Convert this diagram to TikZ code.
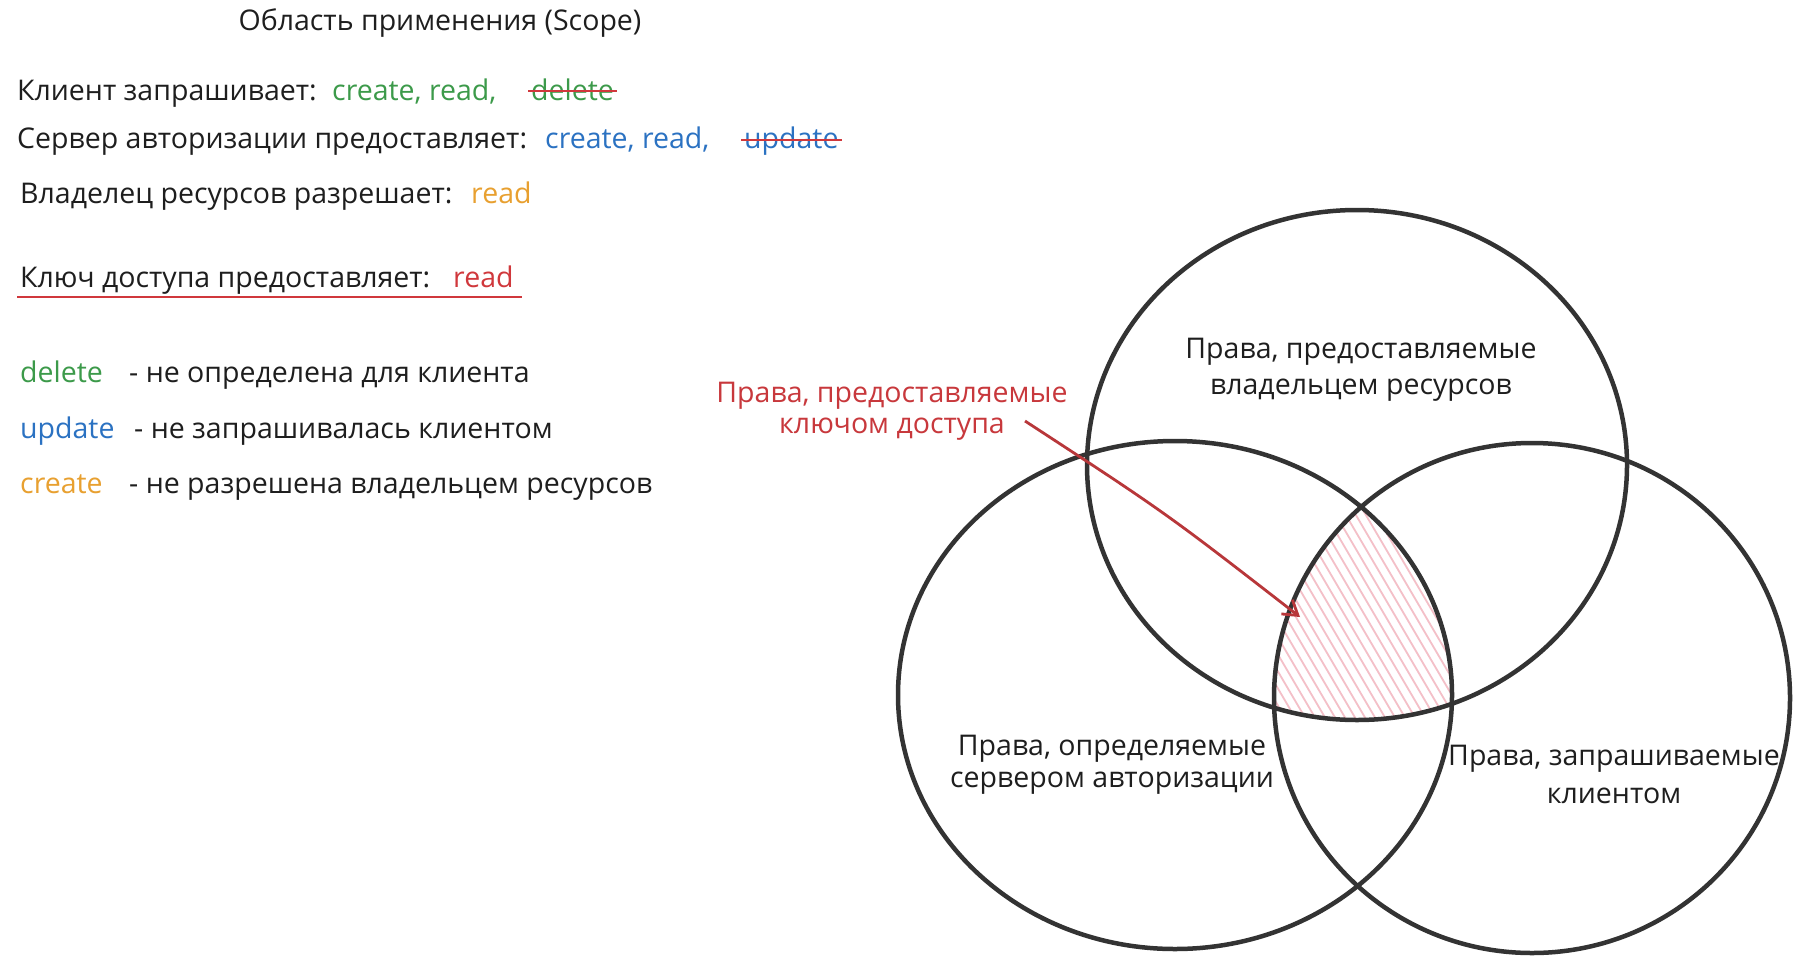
\documentclass[tikz,border=0pt]{standalone}
\usepackage{fontspec}
\setmainfont{Open Sans}
\usetikzlibrary{arrows.meta,calc}
\definecolor{ink}{HTML}{1E1E1E}
\definecolor{cgreen}{HTML}{3C9A4A}
\definecolor{cblue}{HTML}{2B72C2}
\definecolor{corange}{HTML}{E8A030}
\definecolor{cred}{HTML}{D0383C}
\definecolor{labred}{HTML}{C8383C}
\definecolor{arrowred}{HTML}{B8373A}
\definecolor{hatchpink}{HTML}{F4C0C8}
\definecolor{ringgray}{HTML}{333333}
\begin{document}
\begin{tikzpicture}[x=1pt,y=-1pt,
  txt/.style={font=\fontsize{28.5}{33}\selectfont, text=ink, inner sep=0pt, anchor=base west},
  ctxt/.style={font=\fontsize{28.5}{33}\selectfont, text=ink, inner sep=0pt, anchor=base},
  ring/.style={draw=ringgray, line width=4.5pt},
  strike/.style={draw=cred, line width=2.5pt},
  uline/.style={draw=cred, line width=2.5pt},
  hatch/.style={draw=hatchpink, line width=1.8pt},
  pointer/.style={draw=arrowred, line width=2.8pt, -{Straight Barb[length=14pt,width=18pt]}}
]
\fill[white] (0,0) rectangle (1799,972);
\useasboundingbox (0,0) rectangle (1799,972);

% title
\node[ctxt] (title) at (440,30) {Область применения (Scope)};

% line 1
\node[txt] (l1a) at (17,100) {Клиент запрашивает:};
\node[txt,text=cgreen] (l1b) at (332,100) {create, read,};
\node[txt,text=cgreen] (l1c) at (531,100) {delete};
\draw[strike] ([xshift=-3pt,yshift=9pt]l1c.base west) -- ([xshift=3pt,yshift=9pt]l1c.base east);

% line 2
\node[txt] (l2a) at (17,148) {Сервер авторизации предоставляет:};
\node[txt,text=cblue] (l2b) at (545,148) {create, read,};
\node[txt,text=cblue] (l2c) at (744,148) {update};
\draw[strike] ([xshift=-3pt,yshift=8pt]l2c.base west) -- ([xshift=3pt,yshift=8pt]l2c.base east);

% line 3
\node[txt] (l3a) at (20,203) {Владелец ресурсов разрешает:};
\node[txt,text=corange] (l3b) at (471,203) {read};

% line 4
\node[txt] (l4a) at (20,287) {Ключ доступа предоставляет:};
\node[txt,text=cred] (l4b) at (453,287) {read};
\draw[uline] ([xshift=-3pt,yshift=-10pt]l4a.base west) -- ([xshift=8pt,yshift=-10pt]l4b.base east);

% legend
\node[txt,text=cgreen] (g1a) at (20,382) {delete};
\node[txt] (g1b) at (129,382) {- не определена для клиента};
\node[txt,text=cblue] (g2a) at (20,438) {update};
\node[txt] (g2b) at (134,438) {- не запрашивалась клиентом};
\node[txt,text=corange] (g3a) at (20,493) {create};
\node[txt] (g3b) at (129,493) {- не разрешена владельцем ресурсов};

% hatched intersection
\begin{scope}
  \clip (1357,465) ellipse [x radius=270, y radius=255];
  \clip (1175,695) ellipse [x radius=277, y radius=254];
  \clip (1532,698) ellipse [x radius=258, y radius=255];
  \foreach \x in {1100,1110,...,1600} \draw[hatch] (\x-100,420) -- (\x+100,760);
\end{scope}

% circles
\draw[ring] (1357,465) ellipse [x radius=270, y radius=255];
\draw[ring] (1175,695) ellipse [x radius=277, y radius=254];
\draw[ring] (1532,698) ellipse [x radius=258, y radius=255];

% circle labels
\node[ctxt] (t1) at (1361,358) {Права, предоставляемые};
\node[ctxt] (t2) at (1361,394) {владельцем ресурсов};
\node[ctxt] (s1) at (1112,755) {Права, определяемые};
\node[ctxt] (s2) at (1112,787) {сервером авторизации};
\node[ctxt] (c1) at (1614,765) {Права, запрашиваемые};
\node[ctxt] (c2) at (1614,803) {клиентом};

% red label and arrow
\node[ctxt,text=labred] (k1) at (892,402) {Права, предоставляемые};
\node[ctxt,text=labred] (k2) at (892,433) {ключом доступа};
\coordinate (astart) at (1025,421);
\coordinate (aend) at (1300,617);
\draw[pointer] (astart) .. controls (1166,513) .. (aend);
\end{tikzpicture}
\end{document}
